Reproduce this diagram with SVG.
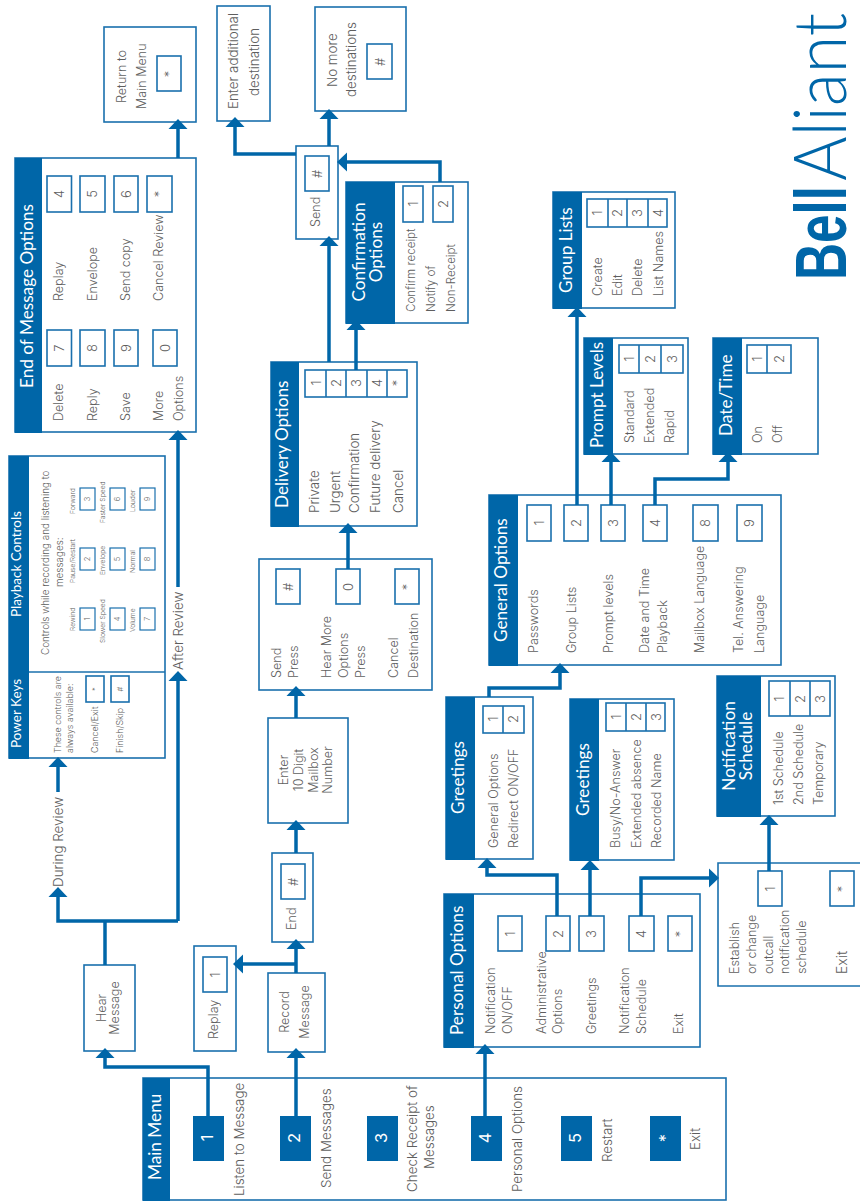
<svg xmlns="http://www.w3.org/2000/svg" width="860" height="1201" viewBox="0 0 860 1201">
<style>
text{font-family:"Inter","Lato","Liberation Sans",sans-serif;font-weight:300;fill:#5e5e5e;font-size:12.6px}
.b{fill:#fff;stroke:#1a70ad;stroke-width:1.6}
.h{fill:#0066a8;stroke:none}
.k{fill:#fff;stroke:#1a70ad;stroke-width:1.6}
.ks{fill:#fff;stroke:#1a70ad;stroke-width:1.2}
.d{stroke:#1a70ad;stroke-width:1.6;fill:none}
text.w{fill:#fff;font-family:"Lato",sans-serif;font-size:17.2px;font-weight:400}
text.wc{text-anchor:middle}
text.w2{font-size:13.5px}
text.n{text-anchor:middle;font-size:13px}
text.m{fill:#fff;text-anchor:middle;font-size:16.5px;font-weight:400}
text.c{text-anchor:middle}
text.s{font-size:6.8px}
text.sn{font-size:7.5px;text-anchor:middle}
text.p{font-size:9.9px}
text.o{font-size:8.9px}
text.q{font-size:11.6px}
text.r{font-size:13.4px}
.cn{fill:none;stroke:#0066a8;stroke-width:3.5;marker-end:url(#a)}
.cl{fill:none;stroke:#0066a8;stroke-width:3.5}
</style>
<defs><marker id="a" markerUnits="userSpaceOnUse" markerWidth="10" markerHeight="20" viewBox="0 -10 10 20" refX="0" refY="0" orient="auto"><path d="M0-9.5L10 0L0 9.5Z" fill="#0066a8"/></marker></defs>

<g id="main-menu">
<rect class="b" x="143" y="1078" width="583" height="122"/><rect class="h" x="143" y="1078" width="27" height="123"/>
<text class="w" transform="translate(161 1180) rotate(-90)">Main Menu</text>
<rect class="h" x="193" y="1116" width="31" height="45"/><text class="m" transform="translate(213 1138) rotate(-90)">1</text>
<rect class="h" x="280" y="1116" width="31" height="45"/><text class="m" transform="translate(300 1138) rotate(-90)">2</text>
<rect class="h" x="367" y="1116" width="31" height="45"/><text class="m" transform="translate(387 1138) rotate(-90)">3</text>
<rect class="h" x="471" y="1116" width="31" height="45"/><text class="m" transform="translate(491 1138) rotate(-90)">4</text>
<rect class="h" x="561" y="1116" width="31" height="45"/><text class="m" transform="translate(581 1138) rotate(-90)">5</text>
<rect class="h" x="650" y="1116" width="31" height="45"/><text class="m" transform="translate(671 1138) rotate(-90)">*</text>
<text class="r" transform="translate(244 1196) rotate(-90)">Listen to Message</text>
<text class="r" transform="translate(331 1188) rotate(-90)">Send Messages</text>
<text class="r" transform="translate(417 1192) rotate(-90)">Check Receipt of</text>
<text class="r" transform="translate(434 1169) rotate(-90)">Messages</text>
<text class="r" transform="translate(522 1192) rotate(-90)">Personal Options</text>
<text class="r" transform="translate(612 1162) rotate(-90)">Restart</text>
<text class="r" transform="translate(700 1150) rotate(-90)">Exit</text>
</g>

<g id="hear-message">
<rect class="b" x="84" y="965" width="51" height="86"/>
<text class="c" transform="translate(106 1008) rotate(-90)">Hear</text>
<text class="c" transform="translate(119 1008) rotate(-90)">Message</text>
</g>

<g id="replay">
<rect class="b" x="194" y="946" width="42" height="105"/>
<rect class="k" x="203" y="957" width="24" height="35"/><text class="n" transform="translate(220 975) rotate(-90)">1</text>
<text transform="translate(218 1039) rotate(-90)">Replay</text>
</g>

<g id="record-message">
<rect class="b" x="268" y="973" width="57" height="79"/>
<text class="c" transform="translate(289 1012) rotate(-90)">Record</text>
<text class="c" transform="translate(309 1012) rotate(-90)">Message</text>
</g>

<g id="end">
<rect class="b" x="272" y="853" width="41" height="89"/>
<rect class="k" x="281" y="864" width="24" height="35"/><text class="n" transform="translate(298 882) rotate(-90)">#</text>
<text transform="translate(296 930) rotate(-90)">End</text>
</g>

<g id="enter-mailbox">
<rect class="b" x="268" y="718" width="80" height="105"/>
<text class="c" transform="translate(288 770) rotate(-90)">Enter</text>
<text class="c" transform="translate(303 770) rotate(-90)">10 Digit</text>
<text class="c" transform="translate(318 770) rotate(-90)">Mailbox</text>
<text class="c" transform="translate(332 770) rotate(-90)">Number</text>
</g>

<g id="send-press">
<rect class="b" x="259" y="559" width="173" height="131"/>
<rect class="k" x="276" y="569" width="24" height="35"/><text class="n" transform="translate(293 587) rotate(-90)">#</text>
<rect class="k" x="336" y="569" width="24" height="35"/><text class="n" transform="translate(353 587) rotate(-90)">0</text>
<rect class="k" x="395" y="569" width="24" height="35"/><text class="n" transform="translate(412 587) rotate(-90)">*</text>
<text transform="translate(281 678) rotate(-90)">Send</text>
<text transform="translate(298 678) rotate(-90)">Press</text>
<text transform="translate(331 678) rotate(-90)">Hear More</text>
<text transform="translate(348 678) rotate(-90)">Options</text>
<text transform="translate(365 678) rotate(-90)">Press</text>
<text transform="translate(398 678) rotate(-90)">Cancel</text>
<text transform="translate(418 678) rotate(-90)">Destination</text>
</g>

<g id="delivery-options">
<rect class="b" x="271" y="362" width="146" height="164"/><rect class="h" x="271" y="362" width="28" height="165"/>
<text class="w" transform="translate(288 508) rotate(-90)">Delivery Options</text>
<rect class="k" x="305" y="370" width="102" height="27"/>
<path class="d" d="M326 370V397M346 370V397M367 370V397M387 370V397"/>
<text class="n" transform="translate(321 383) rotate(-90)">1</text>
<text class="n" transform="translate(341 383) rotate(-90)">2</text>
<text class="n" transform="translate(361 383) rotate(-90)">3</text>
<text class="n" transform="translate(382 383) rotate(-90)">4</text>
<text class="n" transform="translate(402 383) rotate(-90)">*</text>
<text class="r" transform="translate(319 513) rotate(-90)">Private</text>
<text class="r" transform="translate(340 513) rotate(-90)">Urgent</text>
<text class="r" transform="translate(359 513) rotate(-90)">Confirmation</text>
<text class="r" transform="translate(380 513) rotate(-90)">Future delivery</text>
<text class="r" transform="translate(403 513) rotate(-90)">Cancel</text>
</g>

<g id="confirmation-options">
<rect class="b" x="346" y="182" width="122" height="141"/><rect class="h" x="346" y="182" width="49" height="142"/>
<text class="w wc" transform="translate(365 252) rotate(-90)">Confirmation</text>
<text class="w wc" transform="translate(382 252) rotate(-90)">Options</text>
<rect class="k" x="403" y="186" width="20" height="36"/><text class="n" transform="translate(418 204) rotate(-90)">1</text>
<rect class="k" x="433" y="186" width="20" height="36"/><text class="n" transform="translate(448 204) rotate(-90)">2</text>
<text class="q" transform="translate(415 312) rotate(-90)">Confirm receipt</text>
<text class="q" transform="translate(435 312) rotate(-90)">Notify of</text>
<text class="q" transform="translate(455 312) rotate(-90)">Non-Receipt</text>
</g>

<g id="send">
<rect class="b" x="296" y="146" width="42" height="93"/>
<rect class="k" x="305" y="156" width="24" height="35"/><text class="n" transform="translate(322 174) rotate(-90)">#</text>
<text transform="translate(320 227) rotate(-90)">Send</text>
</g>

<g id="enter-additional">
<rect class="b" x="217" y="6" width="53" height="115"/>
<text class="r" transform="translate(238 109) rotate(-90)">Enter additional</text>
<text class="r" transform="translate(259 96) rotate(-90)">destination</text>
</g>

<g id="no-more">
<rect class="b" x="315" y="7" width="91" height="104"/>
<text class="r" transform="translate(337 87) rotate(-90)">No more</text>
<text class="r" transform="translate(356 97) rotate(-90)">destinations</text>
<rect class="k" x="367" y="44" width="25" height="35"/><text class="n" transform="translate(385 62) rotate(-90)">#</text>
</g>

<g id="return-main">
<rect class="b" x="104" y="27" width="92" height="95"/>
<text transform="translate(126 103) rotate(-90)">Return to</text>
<text transform="translate(146 109) rotate(-90)">Main Menu</text>
<rect class="k" x="157" y="56" width="24" height="35"/><text class="n" transform="translate(174 74) rotate(-90)">*</text>
</g>

<g id="end-of-message">
<rect class="b" x="15" y="158" width="181" height="274"/><rect class="h" x="15" y="158" width="27" height="275"/>
<text class="w" transform="translate(33 388) rotate(-90)">End of Message Options</text>
<rect class="k" x="47" y="176" width="24.500" height="36"/><text class="n" transform="translate(64 194) rotate(-90)">4</text>
<rect class="k" x="80" y="176" width="25" height="36"/><text class="n" transform="translate(97 194) rotate(-90)">5</text>
<rect class="k" x="114" y="176" width="24" height="36"/><text class="n" transform="translate(131 194) rotate(-90)">6</text>
<rect class="k" x="147" y="176" width="25" height="36"/><text class="n" transform="translate(164 194) rotate(-90)">*</text>
<rect class="k" x="47" y="330" width="24.500" height="36"/><text class="n" transform="translate(64 348) rotate(-90)">7</text>
<rect class="k" x="80" y="330" width="25" height="36"/><text class="n" transform="translate(97 348) rotate(-90)">8</text>
<rect class="k" x="114" y="330" width="24" height="36"/><text class="n" transform="translate(131 348) rotate(-90)">9</text>
<rect class="k" x="153" y="330" width="24" height="36"/><text class="n" transform="translate(170 348) rotate(-90)">0</text>
<text transform="translate(63 301) rotate(-90)">Replay</text>
<text transform="translate(97 301) rotate(-90)">Envelope</text>
<text transform="translate(130 301) rotate(-90)">Send copy</text>
<text transform="translate(163 301) rotate(-90)">Cancel Review</text>
<text transform="translate(63 421) rotate(-90)">Delete</text>
<text transform="translate(97 421) rotate(-90)">Reply</text>
<text transform="translate(130 421) rotate(-90)">Save</text>
<text transform="translate(163 421) rotate(-90)">More</text>
<text transform="translate(183 421) rotate(-90)">Options</text>
</g>

<g id="power-keys-playback">
<rect class="b" x="9" y="456" width="156" height="302"/><rect class="h" x="9" y="456" width="20" height="303"/>
<path class="d" d="M29 672H165"/>
<text class="w w2" transform="translate(21 617) rotate(-90)">Playback Controls</text>
<text class="w w2" transform="translate(21 748) rotate(-90)">Power Keys</text>
<text class="p" transform="translate(49 655) rotate(-90)">Controls while recording and listening to</text>
<text class="p" transform="translate(63 587) rotate(-90)">messages:</text>
<rect class="ks" x="80" y="488" width="15" height="22"/><text class="sn" transform="translate(90 499) rotate(-90)">3</text>
<rect class="ks" x="110" y="488" width="15" height="22"/><text class="sn" transform="translate(120 499) rotate(-90)">6</text>
<rect class="ks" x="140" y="488" width="15" height="22"/><text class="sn" transform="translate(150 499) rotate(-90)">9</text>
<rect class="ks" x="80" y="548" width="15" height="22"/><text class="sn" transform="translate(90 559) rotate(-90)">2</text>
<rect class="ks" x="110" y="548" width="15" height="22"/><text class="sn" transform="translate(120 559) rotate(-90)">5</text>
<rect class="ks" x="140" y="548" width="15" height="22"/><text class="sn" transform="translate(150 559) rotate(-90)">8</text>
<rect class="ks" x="80" y="608" width="15" height="22"/><text class="sn" transform="translate(90 619) rotate(-90)">1</text>
<rect class="ks" x="110" y="608" width="15" height="22"/><text class="sn" transform="translate(120 619) rotate(-90)">4</text>
<rect class="ks" x="140" y="608" width="15" height="22"/><text class="sn" transform="translate(150 619) rotate(-90)">7</text>
<text class="s" transform="translate(75 514) rotate(-90)">Forward</text>
<text class="s" transform="translate(105 523) rotate(-90)">Faster Speed</text>
<text class="s" transform="translate(135 512) rotate(-90)">Louder</text>
<text class="s" transform="translate(75 583) rotate(-90)">Pause/Restart</text>
<text class="s" transform="translate(105 575) rotate(-90)">Envelope</text>
<text class="s" transform="translate(135 573) rotate(-90)">Normal</text>
<text class="s" transform="translate(75 631) rotate(-90)">Rewind</text>
<text class="s" transform="translate(105 643) rotate(-90)">Slower Speed</text>
<text class="s" transform="translate(135 632) rotate(-90)">Volume</text>
<text class="o" transform="translate(61 753) rotate(-90)">These controls are</text>
<text class="o" transform="translate(73 753) rotate(-90)">always available:</text>
<text class="o" transform="translate(98 753) rotate(-90)">Cancel/Exit</text>
<text class="o" transform="translate(123 753) rotate(-90)">Finish/Skip</text>
<rect class="k" x="86" y="676" width="18" height="26"/><text class="sn" transform="translate(98 689) rotate(-90)">*</text>
<rect class="k" x="111" y="676" width="18" height="26"/><text class="sn" transform="translate(123 689) rotate(-90)">#</text>
</g>

<g id="personal-options">
<rect class="b" x="444" y="894" width="256" height="153"/><rect class="h" x="444" y="894" width="30" height="154"/>
<text class="w" transform="translate(463 1035) rotate(-90)">Personal Options</text>
<rect class="k" x="498" y="916" width="24" height="35"/><text class="n" transform="translate(515 934) rotate(-90)">1</text>
<rect class="k" x="546" y="916" width="24" height="35"/><text class="n" transform="translate(563 934) rotate(-90)">2</text>
<rect class="k" x="579" y="916" width="25" height="35"/><text class="n" transform="translate(596 934) rotate(-90)">3</text>
<rect class="k" x="629" y="916" width="25" height="35"/><text class="n" transform="translate(646 934) rotate(-90)">4</text>
<rect class="k" x="668" y="916" width="24" height="35"/><text class="n" transform="translate(685 934) rotate(-90)">*</text>
<text transform="translate(495 1034) rotate(-90)">Notification</text>
<text transform="translate(512 1034) rotate(-90)">ON/OFF</text>
<text transform="translate(546 1034) rotate(-90)">Administrative</text>
<text transform="translate(562 1034) rotate(-90)">Options</text>
<text transform="translate(596 1034) rotate(-90)">Greetings</text>
<text transform="translate(629 1034) rotate(-90)">Notification</text>
<text transform="translate(646 1034) rotate(-90)">Schedule</text>
<text transform="translate(683 1034) rotate(-90)">Exit</text>
</g>

<g id="outcall-notification">
<path class="b" d="M860 863H718V986H860"/>
<rect class="k" x="758" y="871" width="24" height="35"/><text class="n" transform="translate(775 889) rotate(-90)">1</text>
<rect class="k" x="830" y="871" width="24" height="35"/><text class="n" transform="translate(847 889) rotate(-90)">*</text>
<text transform="translate(739 974) rotate(-90)">Establish</text>
<text transform="translate(756 974) rotate(-90)">or change</text>
<text transform="translate(773 974) rotate(-90)">outcall</text>
<text transform="translate(789 974) rotate(-90)">notification</text>
<text transform="translate(806 974) rotate(-90)">schedule</text>
<text transform="translate(847 974) rotate(-90)" style="font-size:14px">Exit</text>
</g>

<g id="greetings-1">
<rect class="b" x="446" y="697" width="87" height="162"/><rect class="h" x="446" y="697" width="29" height="163"/>
<text class="w" transform="translate(464 814) rotate(-90)">Greetings</text>
<rect class="k" x="483" y="706" width="41" height="27"/><path class="d" d="M503 706V733"/>
<text class="n" transform="translate(498 719) rotate(-90)">1</text>
<text class="n" transform="translate(518 719) rotate(-90)">2</text>
<text transform="translate(498 848) rotate(-90)">General Options</text>
<text transform="translate(518 848) rotate(-90)">Redirect ON/OFF</text>
</g>

<g id="greetings-2">
<rect class="b" x="570" y="699" width="104" height="161"/><rect class="h" x="570" y="699" width="29" height="162"/>
<text class="w" transform="translate(589 816) rotate(-90)">Greetings</text>
<rect class="k" x="606" y="703" width="59" height="28"/><path class="d" d="M626 703V731M646 703V731"/>
<text class="n" transform="translate(621 717) rotate(-90)">1</text>
<text class="n" transform="translate(641 717) rotate(-90)">2</text>
<text class="n" transform="translate(661 717) rotate(-90)">3</text>
<text transform="translate(620 848) rotate(-90)">Busy/No-Answer</text>
<text transform="translate(641 848) rotate(-90)">Extended absence</text>
<text transform="translate(661 848) rotate(-90)">Recorded Name</text>
</g>

<g id="notification-schedule">
<rect class="b" x="717" y="676" width="118" height="140"/><rect class="h" x="717" y="676" width="44" height="141"/>
<text class="w wc" transform="translate(735 746) rotate(-90)">Notification</text>
<text class="w wc" transform="translate(752 746) rotate(-90)">Schedule</text>
<rect class="k" x="769" y="681" width="61" height="35"/><path class="d" d="M790 681V716M810 681V716"/>
<text class="n" transform="translate(784 699) rotate(-90)">1</text>
<text class="n" transform="translate(805 699) rotate(-90)">2</text>
<text class="n" transform="translate(825 699) rotate(-90)">3</text>
<text transform="translate(783 805) rotate(-90)">1st Schedule</text>
<text transform="translate(803 805) rotate(-90)">2nd Schedule</text>
<text transform="translate(823 805) rotate(-90)">Temporary</text>
</g>

<g id="general-options">
<rect class="b" x="489" y="495" width="292" height="170"/><rect class="h" x="489" y="495" width="29" height="171"/>
<text class="w" transform="translate(507 642) rotate(-90)">General Options</text>
<rect class="k" x="527" y="505" width="24" height="36"/><text class="n" transform="translate(544 523) rotate(-90)">1</text>
<rect class="k" x="564" y="505" width="24" height="36"/><text class="n" transform="translate(581 523) rotate(-90)">2</text>
<rect class="k" x="601" y="505" width="24" height="36"/><text class="n" transform="translate(618 523) rotate(-90)">3</text>
<rect class="k" x="643" y="505" width="24" height="36"/><text class="n" transform="translate(660 523) rotate(-90)">4</text>
<rect class="k" x="693" y="505" width="25" height="36"/><text class="n" transform="translate(710 523) rotate(-90)">8</text>
<rect class="k" x="737" y="505" width="25" height="36"/><text class="n" transform="translate(754 523) rotate(-90)">9</text>
<text transform="translate(538 653) rotate(-90)">Passwords</text>
<text transform="translate(576 653) rotate(-90)">Group Lists</text>
<text transform="translate(613 653) rotate(-90)">Prompt levels</text>
<text transform="translate(649 653) rotate(-90)">Date and Time</text>
<text transform="translate(667 653) rotate(-90)">Playback</text>
<text transform="translate(704 653) rotate(-90)">Mailbox Language</text>
<text transform="translate(743 653) rotate(-90)">Tel. Answering</text>
<text transform="translate(764 653) rotate(-90)">Language</text>
</g>

<g id="group-lists">
<rect class="b" x="553" y="192" width="122" height="116"/><rect class="h" x="553" y="192" width="29" height="117"/>
<text class="w" transform="translate(572 293) rotate(-90)">Group Lists</text>
<rect class="k" x="587" y="199" width="80" height="28"/><path class="d" d="M608 199V227M627 199V227M648 199V227"/>
<text class="n" transform="translate(602 213) rotate(-90)">1</text>
<text class="n" transform="translate(622 213) rotate(-90)">2</text>
<text class="n" transform="translate(642 213) rotate(-90)">3</text>
<text class="n" transform="translate(663 213) rotate(-90)">4</text>
<text transform="translate(602 296) rotate(-90)">Create</text>
<text transform="translate(622 296) rotate(-90)">Edit</text>
<text transform="translate(642 296) rotate(-90)">Delete</text>
<text transform="translate(663 296) rotate(-90)">List Names</text>
</g>

<g id="prompt-levels">
<rect class="b" x="584" y="338" width="104" height="116"/><rect class="h" x="584" y="338" width="29" height="117"/>
<text class="w" transform="translate(603 448) rotate(-90)">Prompt Levels</text>
<rect class="k" x="619" y="345" width="64" height="28"/><path class="d" d="M639 345V373M661 345V373"/>
<text class="n" transform="translate(634 359) rotate(-90)">1</text>
<text class="n" transform="translate(655 359) rotate(-90)">2</text>
<text class="n" transform="translate(677 359) rotate(-90)">3</text>
<text transform="translate(634 443) rotate(-90)">Standard</text>
<text transform="translate(654 443) rotate(-90)">Extended</text>
<text transform="translate(674 443) rotate(-90)">Rapid</text>
</g>

<g id="date-time">
<rect class="b" x="713" y="338" width="105" height="116"/><rect class="h" x="713" y="338" width="29" height="117"/>
<text class="w" transform="translate(732 436) rotate(-90)">Date/Time</text>
<rect class="k" x="747" y="345" width="44" height="28"/><path class="d" d="M767 345V373"/>
<text class="n" transform="translate(762 359) rotate(-90)">1</text>
<text class="n" transform="translate(784 359) rotate(-90)">2</text>
<text transform="translate(762 443) rotate(-90)">On</text>
<text transform="translate(782 443) rotate(-90)">Off</text>
</g>

<g id="logo">
<text transform="translate(846 280) rotate(-90)" textLength="94" lengthAdjust="spacingAndGlyphs" style="font-family:'Liberation Sans',sans-serif;font-weight:700;font-size:73px;fill:#0066a8">Bell</text>
<text transform="translate(846 181) rotate(-90)" textLength="168" lengthAdjust="spacingAndGlyphs" style="font-family:'Lato',sans-serif;font-size:73px;font-weight:300;fill:#0066a8">Aliant</text>
</g>

<g id="connectors">
<path class="cn" d="M208 1116V1067H105V1058"/>
<path class="cn" d="M296 1116V1058"/>
<path class="cn" d="M296 973V949"/>
<path class="cn" d="M296 964H243"/>
<path class="cn" d="M296 853V830"/>
<path class="cn" d="M296 718V696"/>
<path class="cn" d="M348 569V533"/>
<path class="cn" d="M329 362V246"/>
<path class="cn" d="M356 370V330"/>
<path class="cn" d="M329 146V119"/>
<path class="cn" d="M296 154H235V127"/>
<path class="cn" d="M440 182V162H347"/>
<path class="cl" d="M105 965V921"/>
<path class="cn" d="M178 921H58V897"/>
<path class="cn" d="M58 792V767"/>
<path class="cn" d="M178 921V681"/>
<path class="cn" d="M178 587V440"/>
<path class="cn" d="M178 158V129"/>
<path class="cn" d="M485 1116V1054"/>
<path class="cn" d="M557 916V875H487V868"/>
<path class="cn" d="M590 916V870"/>
<path class="cn" d="M641 916V878H709"/>
<path class="cn" d="M769 871V825"/>
<path class="cn" d="M489 697V688H560V673"/>
<path class="cn" d="M577 505V317"/>
<path class="cn" d="M611 505V462"/>
<path class="cn" d="M655 505V479H728V462"/>
<text class="r" transform="translate(63 887) rotate(-90)">During Review</text>
<text class="r" transform="translate(183 670) rotate(-90)">After Review</text>
</g>
</svg>
